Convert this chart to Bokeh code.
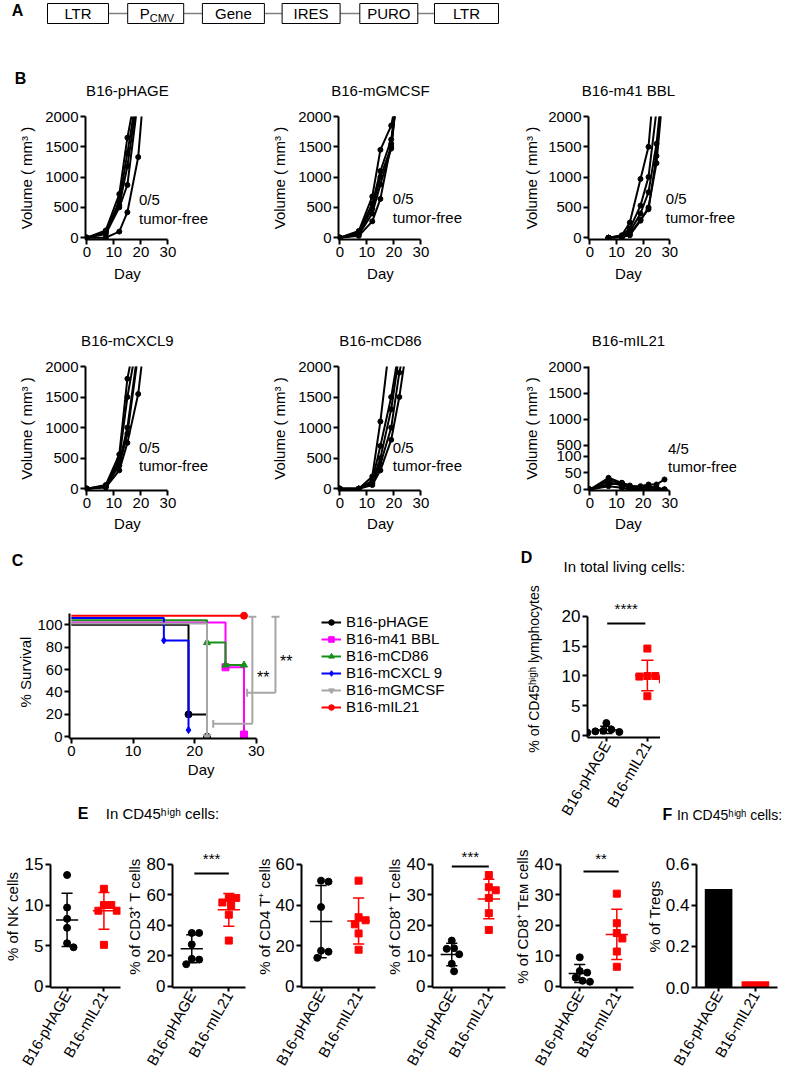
import numpy as np
from math import pi
from bokeh.plotting import figure
from bokeh.models import Range1d, FixedTicker, Label, Legend, LegendItem, PrintfTickFormatter
from bokeh.layouts import row, column
from bokeh.embed import file_html
from bokeh.resources import INLINE

FONT = "Liberation Sans"
nan = float("nan")

# ---------------- data ----------------
# Panel A: vector map
A_PARTS = ["LTR", "P", "Gene", "IRES", "PURO", "LTR"]
A_SUBS = ["", "CMV", "", "", "", ""]

# Panel B: tumour growth curves (mm^3), one list per mouse
B_TITLES = ["B16-pHAGE", "B16-mGMCSF", "B16-m41 BBL", "B16-mCXCL9", "B16-mCD86", "B16-mIL21"]
B_FREE = ["0/5", "0/5", "0/5", "0/5", "0/5", "4/5"]
B_XTICKS = [0, 10, 20, 30]
B_YTICKS = [0, 500, 1000, 1500, 2000]

PHAGE_DAYS = [0, 7, 12, 15, 19, 21]
PHAGE_VOL = [
    [0, 120, 720, 1650, 2600, nan],
    [0, 100, 600, 1400, 2500, nan],
    [0, 90, 530, 1180, 2400, nan],
    [0, 60, 500, 870, 2300, nan],
    [0, 0, 100, 420, 1330, 2400],
]
GMCSF_DAYS = [0, 7, 12, 15, 19, 21]
GMCSF_VOL = [
    [0, 110, 680, 1450, 1850, 2300],
    [0, 90, 560, 1100, 1620, 2300],
    [0, 70, 480, 1000, 1500, 2300],
    [0, 50, 400, 880, 1470, 2300],
    [0, 30, 270, 640, 1550, 2300],
]
BBL_DAYS = [7, 12, 15, 19, 22, 25, 27]
BBL_VOL = [
    [0, 40, 250, 970, 1500, 3000, nan],
    [0, 30, 150, 530, 1000, 2100, nan],
    [0, 20, 100, 400, 750, 1550, 2400],
    [0, 10, 60, 300, 470, 1350, 2300],
    [0, 10, 40, 280, 500, 1230, 2200],
]
CXCL9_DAYS = [0, 7, 12, 15, 19, 21]
CXCL9_VOL = [
    [0, 60, 560, 1800, 2700, nan],
    [0, 50, 480, 1500, 2500, nan],
    [0, 40, 420, 1000, 2300, nan],
    [0, 30, 380, 900, 2200, nan],
    [0, 20, 300, 750, 1550, 2300],
]
CD86_DAYS = [0, 7, 12, 15, 19, 22, 25]
CD86_VOL = [
    [0, 0, 200, 1100, 2600, nan, nan],
    [0, 0, 130, 700, 1500, 2300, nan],
    [0, 0, 100, 500, 1300, 2200, nan],
    [0, 0, 80, 400, 1000, 1900, 2500],
    [0, 0, 60, 300, 800, 1500, 2400],
]
IL21_DAYS = [0, 7, 12, 15, 19, 22, 25, 28]
IL21_VOL = [
    [0, 35, 20, 10, 10, 15, 15, 30],
    [0, 28, 18, 8, 5, 5, 5, 0],
    [0, 22, 12, 5, 0, 0, 0, 0],
    [0, 15, 20, 12, 5, 10, 5, 0],
    [0, 10, 5, 0, 0, 0, 0, 0],
]
IL21_YTICKS_LOW = [0, 50, 100]
IL21_YTICKS_HIGH = [500, 1000, 1500, 2000]

# Panel C: survival (% as drawn, with the small offsets of the original)
SURV_GROUPS = ["B16-pHAGE", "B16-m41 BBL", "B16-mCD86", "B16-mCXCL 9", "B16-mGMCSF", "B16-mIL21"]
SURV_T = [[0, 19, 22], [0, 25, 28], [0, 22, 25, 28], [0, 15, 19], [0, 22], [0, 28]]
SURV_S = [[100, 20, 0], [102, 62, 2], [104, 84, 64, 64], [106, 86, 6], [101, 0], [108, 108]]
C_XTICKS = [0, 10, 20, 30]
C_YTICKS = [0, 20, 40, 60, 80, 100]

# Panels D-F
GROUPS2 = ["B16-pHAGE", "B16-mIL21"]
D_PHAGE = [2.1, 1.0, 0.8, 0.7, 0.6, 0.5]
D_MIL21 = [14.6, 10.0, 10.0, 9.9, 9.4, 6.6]
NK_PHAGE = [13.7, 9.7, 8.3, 7.2, 5.3, 4.8]
NK_MIL21 = [12.0, 10.0, 10.0, 9.3, 9.3, 5.1]
CD3_PHAGE = [35, 35, 27.5, 18, 17.5, 14.5]
CD3_MIL21 = [58, 58, 55, 53, 47, 30]
CD4_PHAGE = [52, 51.5, 39, 17.5, 17, 14]
CD4_MIL21 = [52, 34, 32.5, 30.5, 26, 18]
CD8_PHAGE = [15, 12.5, 12.3, 10.5, 7.4, 4.9]
CD8_MIL21 = [36.5, 32.5, 31.5, 29, 24, 18.5]
TEM_PHAGE = [9.5, 5.0, 4.5, 2.8, 1.8, 1.5]
TEM_MIL21 = [30.4, 20.7, 17.5, 15.7, 11.4, 6.4]
TREGS = [0.48, 0.03]

# ---------------- styling / layout constants ----------------
COLS_C = ["black", "#ff00ff", "#1a8f1a", "#0000ff", "#a6a6a6", "#ff0000"]
MARKS_C = ["circle", "square", "triangle", "diamond", "inverted_triangle", "circle"]
SIG_GRAY = "#a6a6a6"
PAGE_W = 784


def il21_break(v):
    # position of the upper (broken) segment ticks on the plot's linear scale
    return 132 + (v - 500) * 78 / 500


def base_fig(w, h, xr, yr, left, right, top, bottom, axes=True):
    kw = {}
    if not axes:
        kw = dict(x_axis_location=None, y_axis_location=None)
    p = figure(width=w, height=h, x_range=Range1d(*xr), y_range=Range1d(*yr),
               output_backend="svg", toolbar_location=None, title=None,
               min_border_left=left, min_border_right=right,
               min_border_top=top, min_border_bottom=bottom, **kw)
    p.outline_line_color = None
    p.xgrid.visible = False
    p.ygrid.visible = False
    p.background_fill_color = None
    p.border_fill_color = None
    return p


def strip(w, h):
    # a plain text area: one data unit = one pixel, y counted from the top
    return base_fig(w, h, (0, w), (h, 0), 0, 0, 0, 0, axes=False)


def caption_fig(w, h, top, bottom, text, standoff, size="14px", bold=False):
    # a text placed below an empty frame, as the label of a bare x axis
    p = figure(width=w, height=h, x_range=Range1d(0, 1), y_range=Range1d(0, 1),
               output_backend="svg", toolbar_location=None, title=None,
               min_border_left=0, min_border_right=0, min_border_top=top,
               min_border_bottom=bottom, y_axis_location=None)
    p.outline_line_color = None
    p.xgrid.visible = False
    p.ygrid.visible = False
    p.background_fill_color = None
    p.border_fill_color = None
    ax = p.xaxis[0]
    ax.ticker = FixedTicker(ticks=[])
    ax.axis_line_color = None
    ax.major_tick_line_color = None
    ax.minor_tick_line_color = None
    ax.major_tick_out = 0
    ax.major_tick_in = 0
    ax.major_label_standoff = 0
    ax.axis_label = text
    ax.axis_label_standoff = standoff
    ax.axis_label_text_font = FONT
    ax.axis_label_text_font_size = size
    ax.axis_label_text_font_style = "bold" if bold else "normal"
    ax.axis_label_text_color = "black"
    return p


def style_axes(p, tick_size, label_size="15px"):
    for ax in p.axis:
        ax.axis_line_width = 2
        ax.axis_line_color = "black"
        ax.major_tick_line_width = 2
        ax.major_tick_line_color = "black"
        ax.major_tick_out = 5
        ax.major_tick_in = 0
        ax.minor_tick_line_color = None
        ax.major_label_text_font = FONT
        ax.major_label_text_font_size = tick_size
        ax.major_label_text_color = "black"
        ax.major_label_standoff = 2
        ax.axis_label_text_font = FONT
        ax.axis_label_text_font_size = label_size
        ax.axis_label_text_font_style = "normal"
        ax.axis_label_text_color = "black"


def lab(p, x, y, text, dx=0, dy=0, size="15px", align="center", baseline="middle",
        bold=False, color="black"):
    p.add_layout(Label(x=x, y=y, x_offset=dx, y_offset=dy, text=text,
                       text_font=FONT, text_font_size=size, text_align=align,
                       text_baseline=baseline,
                       text_font_style="bold" if bold else "normal",
                       text_color=color))


# ---------------- Panel A (+ row-1 titles of B) ----------------
pA = strip(PAGE_W, 100)
a_first, a_step = 77.5, 77.7
a_widths = [61, 56, 62, 58, 58, 64]
a_cx = [a_first + i * a_step for i in range(len(A_PARTS))]
a_y = 13
for i in range(len(A_PARTS) - 1):
    pA.segment(x0=a_cx[i] + a_widths[i] / 2, x1=a_cx[i + 1] - a_widths[i + 1] / 2,
               y0=a_y, y1=a_y, line_color="#808080", line_width=1.5)
pA.rect(x=a_cx, y=a_y, width=a_widths, height=20, fill_color="white",
        line_color="black", line_width=1)
for cx, t, s in zip(a_cx, A_PARTS, A_SUBS):
    if s:
        lab(pA, cx - 6, a_y, t, align="right")
        lab(pA, cx - 6, a_y + 4, s, align="left", size="11px")
    else:
        lab(pA, cx, a_y, t)
lab(pA, 17, 10, "A", size="16px", bold=True)
lab(pA, 20, 78, "B", size="16px", bold=True)

# ---------------- Panel B ----------------
B_XR = (-0.5, 55)
B_FRAME_W = 150
B_PPD = B_FRAME_W / (B_XR[1] - B_XR[0])
B_FIG_X = [0, 260, 520]
B_FIG_W = [260, 260, 264]
B_LEFT = [85, 78, 66]
B_CX = [B_FIG_X[i] + B_LEFT[i] + (15 - B_XR[0]) * B_PPD for i in range(3)]


def growth_fig(i, h, top, bottom, days, vols, free, note_x, note_dy, yr, yticks,
               overrides=None, std=7):
    w, left = B_FIG_W[i], B_LEFT[i]
    p = base_fig(w, h, B_XR, yr, left, w - left - B_FRAME_W, top, bottom)
    style_axes(p, "15px")
    p.xaxis.ticker = FixedTicker(ticks=B_XTICKS)
    p.xaxis.bounds = (B_XR[0], 30)
    p.yaxis.ticker = FixedTicker(ticks=yticks)
    if overrides:
        p.yaxis.major_label_overrides = overrides
    p.yaxis.axis_label = "Volume ( mm³ )"
    p.yaxis.axis_label_standoff = std
    for v in vols:
        p.line(days, v, line_color="black", line_width=2)
        p.scatter(days, v, marker="circle", size=5, color="black")
    y0 = yr[0]
    lab(p, note_x, y0, free, dy=note_dy[0], align="left")
    lab(p, note_x, y0, "tumor-free", dy=note_dy[1], align="left")
    return p


for i in range(3):
    lab(pA, B_CX[i], 90, B_TITLES[i])

BYR = (-30, 2000)
f1 = growth_fig(0, 163, 16, 24, PHAGE_DAYS, PHAGE_VOL, B_FREE[0], 19.3, (40, 21), BYR, B_YTICKS)
f2 = growth_fig(1, 163, 16, 24, GMCSF_DAYS, GMCSF_VOL, B_FREE[1], 19.6, (41, 22), BYR, B_YTICKS)
f3 = growth_fig(2, 163, 16, 24, BBL_DAYS, BBL_VOL, B_FREE[2], 28.5, (41, 22), BYR, B_YTICKS, std=5)

s2 = strip(PAGE_W, 87)   # y 263..350
for i in range(3):
    lab(s2, B_CX[i], 10, "Day")
    lab(s2, B_CX[i], 77, B_TITLES[3 + i])

f4 = growth_fig(0, 164, 16, 24, CXCL9_DAYS, CXCL9_VOL, B_FREE[3], 19.3, (43, 25), BYR, B_YTICKS)
f5 = growth_fig(1, 164, 16, 24, CD86_DAYS, CD86_VOL, B_FREE[4], 19.6, (43, 25), BYR, B_YTICKS)
il21_ticks = IL21_YTICKS_LOW + [il21_break(v) for v in IL21_YTICKS_HIGH]
il21_over = {il21_break(v): str(v) for v in IL21_YTICKS_HIGH}
f6 = growth_fig(2, 164, 16, 24, IL21_DAYS, IL21_VOL, B_FREE[5], 29.3, (42, 24), (-3, 368),
                il21_ticks, overrides=il21_over, std=5)

s3 = strip(PAGE_W, 61)   # y 514..575
for i in range(3):
    lab(s3, B_CX[i], 9, "Day")
lab(s3, 17, 46, "C", size="16px", bold=True)
lab(s3, 526, 43, "D", size="16px", bold=True)
lab(s3, 563, 52, "In total living cells:", align="left")

# ---------------- Panel C ----------------
C_XR = (-0.3, 66.35)
C_YR = (-1.5, 117.1)
pC = base_fig(510, 187, C_XR, C_YR, 69, 30, 30, 24)
style_axes(pC, "15px")
pC.xaxis.ticker = FixedTicker(ticks=C_XTICKS)
pC.xaxis.bounds = (C_XR[0], 30)
pC.yaxis.ticker = FixedTicker(ticks=C_YTICKS)
pC.yaxis.bounds = (C_YR[0], 110)
pC.yaxis.axis_label = "% Survival"
pC.yaxis.axis_label_standoff = 0
items = []
for name, t, s, col, mk in zip(SURV_GROUPS, SURV_T, SURV_S, COLS_C, MARKS_C):
    lr = pC.step(t, s, mode="after", line_color=col, line_width=2)
    sr = pC.scatter(t[1:], s[1:], marker=mk, size=7, color=col)
    items.append(LegendItem(label=name, renderers=[lr, sr]))
legend = Legend(items=items, location=(252, 23), border_line_color=None,
                background_fill_alpha=0, label_text_font=FONT, label_text_font_size="15px",
                label_text_color="black", glyph_width=20, glyph_height=14, label_height=14,
                spacing=0, padding=0, margin=0, label_standoff=5)
pC.add_layout(legend)
# significance brackets: (left end, bar x, low y, top y)
C_BRACKETS = [(23.0, 29.35, 11.6, 107.1), (28.5, 33.1, 39.3, 107.1)]
bx0, bx1, by0, by1 = [], [], [], []
for xl, xb, yl, yt in C_BRACKETS:
    bx0 += [xl, xl, xb, xb - 0.65]
    bx1 += [xb, xl, xb, xb + 0.65]
    by0 += [yl, yl - 3.5, yl, yt]
    by1 += [yl, yl + 3.5, yt, yt]
pC.segment(x0=bx0, x1=bx1, y0=by0, y1=by1, line_color=SIG_GRAY, line_width=2)
lab(pC, 31.1, 53.3, "**", size="16px")
lab(pC, 34.86, 67.5, "**", size="16px")

sL2 = strip(510, 78)     # y 762..840
C_PPD = 411 / (C_XR[1] - C_XR[0])
lab(sL2, 69 + (15 - C_XR[0]) * C_PPD, 7, "Day")
lab(sL2, 17, 51, "E", size="16px", bold=True)
lab(sL2, 45, 51, "In CD45ʰⁱᵍʰ cells:", align="left")


# ---------------- dot plots (D, E) ----------------
def swarm(vals, ppu_y, ppu_x, d=8.0):
    vals = np.asarray(vals, float)
    order = np.argsort(-vals, kind="stable")
    cands = [0.0]
    for k in range(1, 60):
        cands += [k * 0.5, -k * 0.5]
    placed, offs = [], np.zeros(len(vals))
    for i in order:
        y = vals[i] * ppu_y
        for c in cands:
            if all((c - px) ** 2 + (y - py) ** 2 >= d * d for px, py in placed):
                break
        placed.append((c, y))
        offs[i] = c / ppu_x
    return offs


def cat_axis(p):
    ax = p.xaxis[0]
    ax.ticker = FixedTicker(ticks=[0, 1])
    ax.major_label_overrides = {0: GROUPS2[0], 1: GROUPS2[1]}
    ax.major_label_orientation = pi / 3
    ax.major_label_text_font_size = "15px"
    ax.major_label_standoff = 1
    ax.major_tick_out = 4


def dot_fig(w, h, left, right, top, bottom, xr, yr, yticks, ylabel, std, a, b, sig=None,
            label_size="15px"):
    p = base_fig(w, h, xr, yr, left, right, top, bottom)
    style_axes(p, "17px", label_size)
    cat_axis(p)
    p.yaxis.ticker = FixedTicker(ticks=yticks)
    p.yaxis.bounds = (yr[0], yticks[-1])
    p.yaxis.axis_label = ylabel
    p.yaxis.axis_label_standoff = std
    ppu_y = (h - top - bottom) / (yr[1] - yr[0])
    ppu_x = (w - left - right) / (xr[1] - xr[0])
    for gi, (vals, col, mk) in enumerate([(a, "black", "circle"), (b, "red", "square")]):
        v = np.asarray(vals, float)
        m, s = v.mean(), v.std(ddof=1)
        p.segment(x0=[gi - 0.3, gi - 0.15, gi - 0.15, gi], x1=[gi + 0.3, gi + 0.15, gi + 0.15, gi],
                  y0=[m, m + s, m - s, m - s], y1=[m, m + s, m - s, m + s],
                  line_color=col, line_width=1.5)
        off = swarm(v, ppu_y, ppu_x)
        p.scatter(gi + off, v, marker=mk, size=7, color=col)
    if sig:
        stars, yl, x0, x1, dy = sig
        p.segment(x0=[x0], x1=[x1], y0=[yl], y1=[yl], line_color="black", line_width=2)
        lab(p, (x0 + x1) / 2, yticks[-1], stars, dy=dy)
    return p


D_TOP, D_BOT = 25, 87
pD = dot_fig(150, 250, 77, 0, D_TOP, D_BOT, (-0.46, 1.32), (-0.33, 22.67), [0, 5, 10, 15, 20],
             "% of CD45ʰⁱᵍʰ lymphocytes", 17, D_PHAGE, D_MIL21,
             sig=("****", 18.8, 0.02, 0.95, 7.5), label_size="14px")
# "F  In CD45high cells:" heading (y ~815), placed under empty frames beside panel D
sF1 = caption_fig(14, 250, D_TOP, D_BOT, "F", 68, size="16px", bold=True)
sF2 = caption_fig(110, 250, D_TOP, D_BOT, "In CD45ʰⁱᵍʰ cells:", 69, size="14px")

E_TOP, E_BOT = 5, 87
e1 = dot_fig(122, 235, 44, 2, E_TOP, E_BOT, (-0.45, 1.45), (-0.15, 17.33), [0, 5, 10, 15],
             "% of NK cells", 1, NK_PHAGE, NK_MIL21)
e2 = dot_fig(130, 235, 44, 7, E_TOP, E_BOT, (-0.52, 1.45), (-0.8, 92.4), [0, 20, 40, 60, 80],
             "% of CD3⁺ T cells", 1, CD3_PHAGE, CD3_MIL21, sig=("***", 74, 0.07, 1.0, 6))
e3 = dot_fig(130, 235, 44, 7, E_TOP, E_BOT, (-0.52, 1.45), (-0.6, 69.3), [0, 20, 40, 60],
             "% of CD4 T⁺ cells", 0, CD4_PHAGE, CD4_MIL21)
e4 = dot_fig(128, 235, 44, 5, E_TOP, E_BOT, (-0.52, 1.45), (-0.4, 46.2), [0, 10, 20, 30, 40],
             "% of CD8⁺ T cells", 1, CD8_PHAGE, CD8_MIL21, sig=("***", 39.3, 0.0, 1.0, 7.5))
e5 = dot_fig(132, 250, 44, 9, 20, E_BOT, (-0.52, 1.45), (-0.4, 46.2), [0, 10, 20, 30, 40],
             "% of CD8⁺ Tᴇᴍ cells", 1, TEM_PHAGE, TEM_MIL21, sig=("**", 37.7, 0.1, 1.05, 5.7))

# ---------------- Panel F ----------------
F_YR = (0, 0.692)
pF = base_fig(142, 250, (-0.6, 1.6), F_YR, 47, 7, 20, E_BOT)
style_axes(pF, "17px")
cat_axis(pF)
pF.yaxis.ticker = FixedTicker(ticks=[0, 0.2, 0.4, 0.6])
pF.yaxis.bounds = (0, 0.6)
pF.yaxis.formatter = PrintfTickFormatter(format="%.1f")
pF.yaxis.axis_label = "% of Tregs"
pF.yaxis.axis_label_standoff = 0
pF.vbar(x=[0, 1], top=TREGS, width=0.75, fill_color=["black", "red"], line_color=None)

# ---------------- layout ----------------
left_col = column(pC, sL2, row(e1, e2, e3, e4))
right_col = column(row(pD, sF1, sF2), row(e5, pF))
root = column(pA, row(f1, f2, f3), s2, row(f4, f5, f6), s3, row(left_col, right_col))

open("out.html", "w").write(file_html(root, INLINE, title="Tumor figure"))
